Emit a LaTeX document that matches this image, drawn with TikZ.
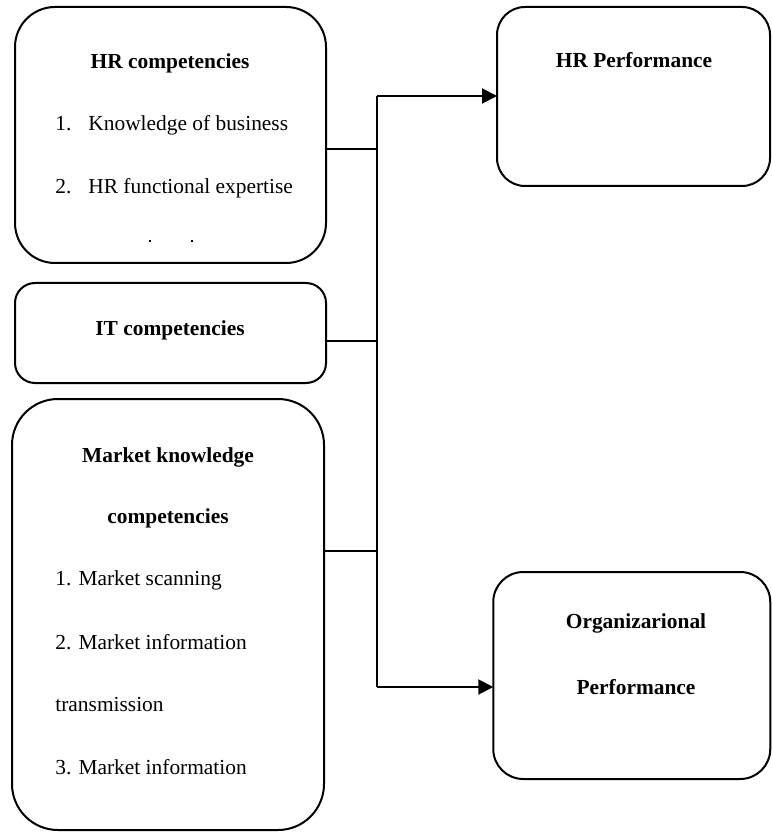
\documentclass[tikz,border=0pt]{standalone}
\usepackage{fontspec}
\setmainfont{Liberation Serif}
\usetikzlibrary{arrows.meta, positioning}

\begin{document}
\begin{tikzpicture}[
        x=0.5pt, y=-0.5pt,
        font=\fontsize{10.7}{12}\selectfont,
        card/.style={
            rectangle, draw=black, line width=1pt, inner sep=0pt, outer sep=0pt
        },
        head/.style={font=\fontsize{10.7}{12}\selectfont\bfseries, inner sep=0pt},
        item/.style={anchor=west, inner sep=0pt},
        link/.style={line width=1pt},
        arrow/.style={line width=1pt, -{Triangle[length=7.5pt, width=7.5pt]}}
    ]
        \useasboundingbox (0,0) rectangle (771,833);

        % Left side
        \node[card, rounded corners=20pt, minimum width=155.5pt, minimum height=128pt] (hr) at (170.5,135) {};
        \node[head] (hrhead) at (170,63) {HR competencies};
        \node[item] (hr1) at (55,125) {\makebox[16.5pt][l]{1.}Knowledge of business};
        \node[item] (hr2) at (55,188) {\makebox[16.5pt][l]{2.}HR functional expertise};
        \fill (149,240) rectangle (151,242);
        \fill (191,240) rectangle (193,242);

        \node[card, rounded corners=10pt, minimum width=155.5pt, minimum height=50pt] (it) at (170.5,333) {};
        \node[head] (ithead) at (170,330) {IT competencies};

        \node[card, rounded corners=23pt, minimum width=156pt, minimum height=215.5pt] (mk) at (168,614.5) {};
        \node[head] (mkhead) at (168,457) {Market knowledge};
        \node[head] (mkhead2) at (168,518) {competencies};
        \node[item] (mk1) at (55,580) {1. Market scanning};
        \node[item] (mk2) at (55,642) {2. Market information};
        \node[item] (mk3) at (55,705) {transmission};
        \node[item] (mk4) at (55,767) {3. Market information};

        % Right side
        \node[card, rounded corners=14pt, minimum width=136.5pt, minimum height=89.5pt] (hrp) at (633.5,96.5) {};
        \node[head] (hrphead) at (634,60) {HR Performance};

        \node[card, rounded corners=15pt, minimum width=138.5pt, minimum height=103.5pt] (org) at (631.75,675.5) {};
        \node[head] (orghead) at (636,623) {Organizarional};
        \node[head] (orghead2) at (636,687) {Performance};

        % Junctions
        \coordinate (top) at (377,96);
        \coordinate (bot) at (377,687);
        \coordinate (j1) at (377,149);
        \coordinate (j2) at (377,341);
        \coordinate (j3) at (377,551);

        \draw[link] (hr.east |- j1) -- (j1);
        \draw[link] (it.east |- j2) -- (j2);
        \draw[link] (mk.east |- j3) -- (j3);
        \draw[link] (top) -- (bot);

        \draw[arrow] (top) -- (hrp.west |- top);
        \draw[arrow] (bot) -- (org.west |- bot);

    \end{tikzpicture}
\end{document}
